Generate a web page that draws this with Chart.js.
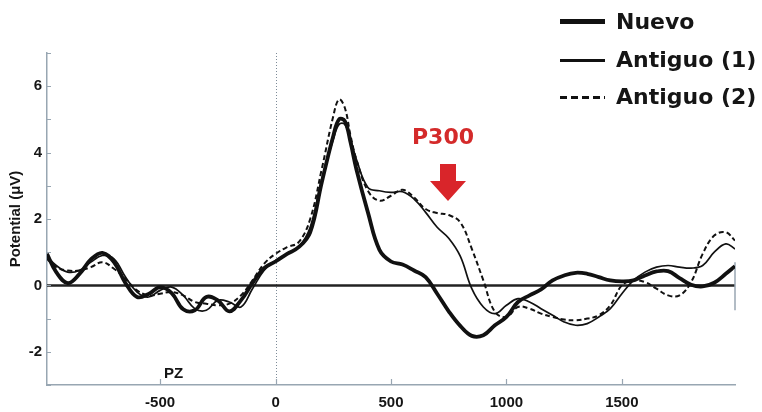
<!DOCTYPE html>
<html>
<head>
<meta charset="utf-8">
<script src="https://cdn.jsdelivr.net/npm/chart.js@4.4.1/dist/chart.umd.min.js"></script>
<style>
  html, body { margin: 0; padding: 0; background: #fff; }
  #wrap { position: relative; width: 762px; height: 412px; overflow: hidden; }
  #c { position: absolute; left: 0; top: 0; }
  .lg { position: absolute; font-family: "DejaVu Sans", Verdana, sans-serif; font-weight: bold; font-size: 22px; color: #151515; white-space: nowrap; height: 30px; line-height: 30px; }
  .ls { position: absolute; left: 560px; width: 45px; }
  #p300 { position: absolute; left: 412px; top: 122px; height: 30px; line-height: 30px; font-family: "DejaVu Sans", Verdana, sans-serif; font-weight: bold; font-size: 22px; color: #d42a2a; }
  #arrow { position: absolute; left: 430px; top: 164px; width: 36px; height: 37px; background: #d9252a;
           clip-path: polygon(10px 0, 26px 0, 26px 17px, 36px 17px, 18px 37px, 0 17px, 10px 17px); }
  #pz { position: absolute; left: 164px; top: 364px; height: 18px; line-height: 18px; font-family: "Liberation Sans", Arial, sans-serif; font-weight: bold; font-size: 15px; color: #151515; }
</style>
</head>
<body>
<div id="wrap">
  <canvas id="c" width="762" height="412"></canvas>
  <div class="ls" style="top:19px;height:5px;background:#111;"></div>
  <div class="lg" style="left:616px;top:7px;">Nuevo</div>
  <div class="ls" style="top:59px;height:2.5px;background:#111;"></div>
  <div class="lg" style="left:616px;top:45px;">Antiguo (1)</div>
  <div class="ls" style="top:96px;height:2.5px;background:repeating-linear-gradient(to right,#111 0 7px,transparent 7px 11px);"></div>
  <div class="lg" style="left:616px;top:82px;">Antiguo (2)</div>
  <div id="p300">P300</div>
  <div id="arrow"></div>
  <div id="pz">PZ</div>
</div>
<script>
// ---- data (ms, µV) ----
const times = [-990,-950,-900,-850,-800,-750,-700,-650,-600,-550,-500,-450,-400,-350,-300,-250,-200,-150,-100,-50,
  0,50,100,150,200,250,275,300,325,350,400,450,500,550,600,650,700,750,800,850,900,950,
  1000,1050,1100,1150,1200,1250,1300,1350,1400,1450,1500,1550,1600,1650,1700,1750,1800,1850,1900,1950,1990];

const nuevo = [0.95,0.4,0.07,0.34,0.78,0.98,0.7,0.07,-0.35,-0.26,-0.05,-0.23,-0.72,-0.75,-0.35,-0.45,-0.78,-0.45,0.07,0.52,
  0.72,0.95,1.15,1.6,3.1,4.5,5.0,4.95,4.3,3.5,2.2,1.07,0.72,0.63,0.45,0.25,-0.25,-0.78,-1.22,-1.52,-1.5,-1.2,
  -0.95,-0.5,-0.3,-0.12,0.15,0.3,0.38,0.35,0.25,0.15,0.12,0.15,0.3,0.42,0.43,0.22,0.02,-0.03,0.08,0.35,0.58];

const antiguo1 = [0.88,0.6,0.4,0.45,0.7,0.9,0.8,0.25,-0.2,-0.35,-0.15,-0.05,-0.3,-0.7,-0.75,-0.45,-0.5,-0.65,-0.1,0.45,
  0.75,0.95,1.15,1.75,3.2,4.4,4.85,4.85,4.4,3.8,2.95,2.85,2.8,2.82,2.6,2.2,1.75,1.42,0.88,-0.1,-0.65,-0.85,
  -0.6,-0.4,-0.5,-0.7,-0.9,-1.1,-1.2,-1.15,-0.95,-0.7,-0.25,0.15,0.4,0.55,0.6,0.55,0.52,0.6,1.0,1.25,1.1];

const antiguo2 = [0.8,0.55,0.45,0.45,0.55,0.7,0.5,0.2,-0.15,-0.3,-0.25,-0.2,-0.3,-0.5,-0.55,-0.6,-0.55,-0.3,0.15,0.65,
  0.95,1.15,1.3,2.0,3.5,5.1,5.6,5.35,4.5,3.8,2.85,2.55,2.7,2.88,2.65,2.3,2.18,2.12,1.9,1.1,0.15,-0.8,
  -0.95,-0.65,-0.7,-0.85,-0.95,-1.03,-1.05,-1.0,-0.9,-0.6,0.0,0.15,0.1,-0.1,-0.3,-0.3,0.1,0.95,1.5,1.6,1.35];

const xTicks = [-500, 0, 500, 1000, 1500];
const yTicks = [-3, -2, -1, 0, 1, 2, 3, 4, 5, 6, 7];

const pts = arr => times.map((t, i) => ({ x: t, y: arr[i] }));
const axisColor = '#98a6b2';
const labelFont = { family: '"Liberation Sans", Arial, sans-serif', size: 15, weight: 'bold' };

const decor = {
  id: 'decor',
  beforeDatasetsDraw(chart) {
    const { ctx, chartArea: a, scales: { x, y } } = chart;
    ctx.save();
    const x0 = Math.round(x.getPixelForValue(0)) + 0.5;
    ctx.strokeStyle = '#7d8b98';
    ctx.lineWidth = 1;
    ctx.setLineDash([1, 2]);
    ctx.beginPath(); ctx.moveTo(x0, a.top); ctx.lineTo(x0, a.bottom); ctx.stroke();
    ctx.setLineDash([]);
    const y0 = y.getPixelForValue(0);
    ctx.strokeStyle = '#222';
    ctx.lineWidth = 2.5;
    ctx.beginPath(); ctx.moveTo(a.left, y0); ctx.lineTo(a.right, y0); ctx.stroke();
    ctx.strokeStyle = axisColor;
    ctx.lineWidth = 1.5;
    ctx.beginPath(); ctx.moveTo(a.right, y.getPixelForValue(0.7)); ctx.lineTo(a.right, y.getPixelForValue(-0.75)); ctx.stroke();
    ctx.restore();
  },
  afterDraw(chart) {
    const { ctx, chartArea: a, scales: { x, y } } = chart;
    ctx.save();
    ctx.strokeStyle = axisColor;
    ctx.lineWidth = 1.2;
    ctx.beginPath();
    yTicks.forEach(v => {
      const py = Math.round(y.getPixelForValue(v)) + 0.5;
      ctx.moveTo(a.left, py); ctx.lineTo(a.left + 4, py);
    });
    xTicks.forEach(v => {
      const px = Math.round(x.getPixelForValue(v)) + 0.5;
      ctx.moveTo(px, a.bottom); ctx.lineTo(px, a.bottom - 6);
    });
    ctx.stroke();
    ctx.restore();
  }
};

new Chart(document.getElementById('c'), {
  type: 'line',
  data: {
    datasets: [
      { label: 'Nuevo', data: pts(nuevo), borderColor: '#111', borderWidth: 3.8 },
      { label: 'Antiguo (1)', data: pts(antiguo1), borderColor: '#111', borderWidth: 1.7 },
      { label: 'Antiguo (2)', data: pts(antiguo2), borderColor: '#111', borderWidth: 2, borderDash: [5, 3] }
    ]
  },
  options: {
    responsive: false,
    animation: false,
    devicePixelRatio: 1,
    layout: { padding: { top: 53, right: 27, left: 0, bottom: 0 } },
    plugins: { legend: { display: false }, tooltip: { enabled: false } },
    elements: { point: { radius: 0 }, line: { tension: 0.4, fill: false } },
    scales: {
      x: {
        type: 'linear', min: -990, max: 1990,
        afterBuildTicks: s => { s.ticks = xTicks.map(v => ({ value: v })); },
        afterFit: s => { s.height = 27; },
        grid: { display: true, drawOnChartArea: false, drawTicks: false },
        border: { display: true, color: axisColor, width: 1.5 },
        ticks: { font: labelFont, color: '#151515', padding: 9, autoSkip: false, maxRotation: 0,
                 callback: v => String(v) }
      },
      y: {
        type: 'linear', min: -3, max: 7,
        afterBuildTicks: s => { s.ticks = yTicks.map(v => ({ value: v })); },
        afterFit: s => { s.width = 47; },
        grid: { display: true, drawOnChartArea: false, drawTicks: false },
        border: { display: true, color: axisColor, width: 1.5 },
        ticks: { font: labelFont, color: '#151515', padding: 5, autoSkip: false,
                 callback: v => (v % 2 === 0 ? String(v) : '') },
        title: { display: true, text: 'Potential (μV)', font: { family: '"Liberation Sans", Arial, sans-serif', size: 15, weight: 'bold' },
                 color: '#151515', padding: { top: 7, bottom: 0 } }
      }
    }
  },
  plugins: [decor]
});
</script>
</body>
</html>
